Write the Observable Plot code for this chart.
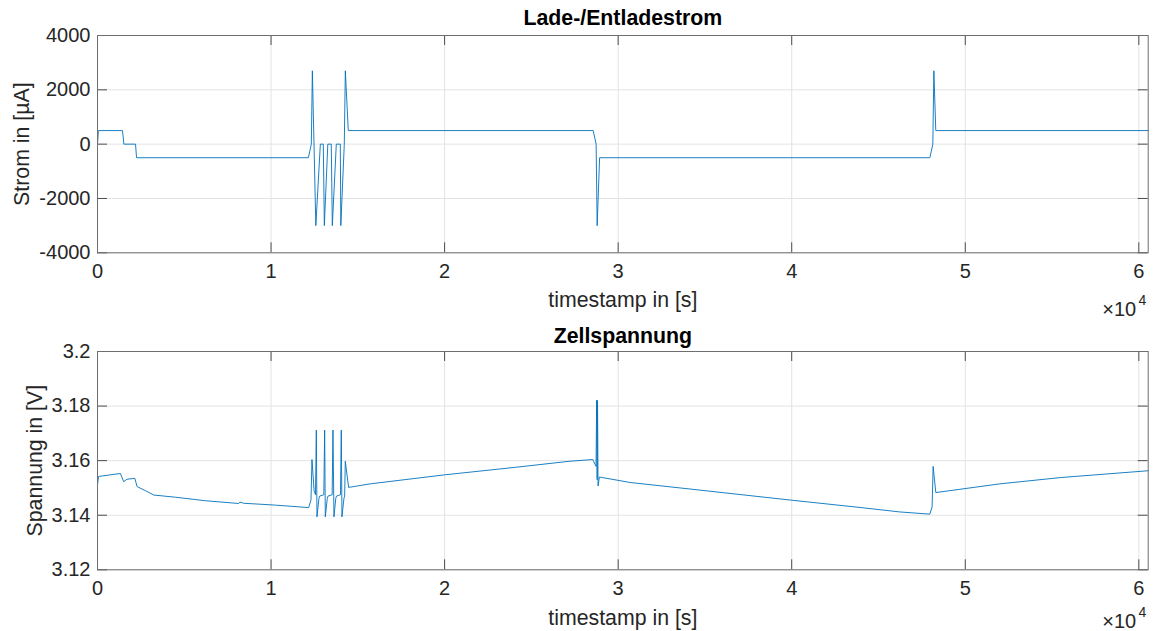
<!DOCTYPE html>
<html>
<head>
<meta charset="utf-8">
<script src="https://cdn.jsdelivr.net/npm/d3@7"></script>
<script src="https://cdn.jsdelivr.net/npm/@observablehq/plot@0.6"></script>
<style>
  html, body { margin: 0; padding: 0; background: #fff; }
  #wrap { width: 1153px; height: 631px; position: relative; overflow: hidden; }
  #wrap svg { display: block; }
</style>
</head>
<body>
<div id="wrap"></div>
<script>
// ---------- data ----------
const xTicks = [0, 10000, 20000, 30000, 40000, 50000, 60000];
const xTickLabels = ["0", "1", "2", "3", "4", "5", "6"];
const xMax = 60540;

const titleTop = "Lade-/Entladestrom";
const titleBottom = "Zellspannung";
const xLabel = "timestamp in [s]";
const yLabelTop = "Strom in [µA]";
const yLabelBottom = "Spannung in [V]";
const exponentBase = "×10";
const exponentPower = "4";

const currentTicks = [-4000, -2000, 0, 2000, 4000];
const currentTickLabels = ["-4000", "-2000", "0", "2000", "4000"];
const voltageTicks = [3.12, 3.14, 3.16, 3.18, 3.2];
const voltageTickLabels = ["3.12", "3.14", "3.16", "3.18", "3.2"];

// current (µA) vs time (s)
const currentTime = [0, 50, 1440, 1520, 2190, 2250, 12150, 12320, 12380, 12580, 12840, 13010, 13070, 13270, 13470, 13530, 13760, 13990, 14020, 14220, 14280, 14450, 28560, 28730, 28790, 28930, 47960, 48130, 48190, 48300, 60540];
const currentValue = [0, 500, 500, 0, 0, -500, -500, 0, 2700, -3000, 0, 0, -3000, 0, 0, -3000, 0, 0, -3000, 0, 2700, 500, 500, 0, -3000, -500, -500, 0, 2700, 500, 500];

// cell voltage (V) vs time (s)
const voltageTime = [0, 60, 1320, 1510, 1700, 2150, 2280, 2760, 3240, 4490, 6220, 8140, 8200, 8330, 8400, 10250, 11110, 12167,
  12301, 12358, 12480, 12560, 12608, 12646, 12760, 12800, 13040, 13088, 13126, 13240, 13280, 13520, 13567, 13625, 13730, 13770,
  14000, 14047, 14085, 14200, 14240, 14277, 14469, 15717, 20000, 24000, 27230, 28536, 28727, 28760, 28790, 28810, 28842, 28918,
  30685, 35000, 40000, 44000, 46230, 47956, 48090, 48148, 48302, 49683, 52000, 55490, 60540];
const voltageValue = [3.1511, 3.1542, 3.1553, 3.1523, 3.1532, 3.1535, 3.1505, 3.1490, 3.1474, 3.1466, 3.1453, 3.1443, 3.1448, 3.1446, 3.1444, 3.1437, 3.1433, 3.1428,
  3.1456, 3.1604, 3.1490, 3.1475, 3.1712, 3.1394, 3.1462, 3.1470, 3.1475, 3.1712, 3.1394, 3.1462, 3.1470, 3.1475, 3.1712, 3.1394, 3.1462, 3.1470,
  3.1475, 3.1712, 3.1394, 3.1462, 3.1470, 3.1598, 3.1502, 3.1515, 3.1548, 3.1575, 3.1598, 3.1604, 3.1579, 3.1822, 3.1530, 3.1820, 3.1507, 3.1540,
  3.1520, 3.1490, 3.1455, 3.1428, 3.1412, 3.1404, 3.1431, 3.1579, 3.1483, 3.1495, 3.1515, 3.1538, 3.1563];

const currentData = currentTime.map((t, i) => ({t, v: currentValue[i]}));
const voltageData = voltageTime.map((t, i) => ({t, v: voltageValue[i]}));

// ---------- drawing ----------
const W = 1153;
const FONT = "'Liberation Sans', Arial, Helvetica, sans-serif";
const AX = "#262626";
const GRID = "#e3e3e3";
const LINE = "#0072BD";
const TICK = 10;
const LABEL_SIZE = 21.3;

function panel(o) {
  const mL = 97, mR = 5.3;
  const frameW = W - mL - mR;
  const frameH = o.height - o.mt - o.mb;
  const yi = d => o.yTicks.indexOf(d);
  const xi = d => xTicks.indexOf(d);
  return Plot.plot({
    width: W,
    height: o.height,
    marginLeft: mL,
    marginRight: mR,
    marginTop: o.mt,
    marginBottom: o.mb,
    style: {fontFamily: FONT, fontSize: "20px", color: AX, background: "#fff", overflow: "visible"},
    x: {domain: [0, xMax], axis: null},
    y: {domain: o.yDomain, axis: null},
    marks: [
      Plot.gridX(xTicks, {stroke: GRID, strokeOpacity: 1}),
      Plot.gridY(o.yTicks, {stroke: GRID, strokeOpacity: 1}),
      Plot.line(o.data, {x: "t", y: "v", stroke: LINE, strokeWidth: 0.9}),
      Plot.tickX(xTicks, {x: d => d, insetTop: frameH - TICK, stroke: AX, strokeWidth: 0.8}),
      Plot.tickX(xTicks, {x: d => d, insetBottom: frameH - TICK, stroke: AX, strokeWidth: 0.8}),
      Plot.tickY(o.yTicks, {y: d => d, insetRight: frameW - TICK, stroke: AX, strokeWidth: 0.8}),
      Plot.tickY(o.yTicks, {y: d => d, insetLeft: frameW - TICK, stroke: AX, strokeWidth: 0.8}),
      Plot.frame({stroke: "#6e6e6e", strokeWidth: 1}),
      Plot.text(xTicks, {x: d => d, text: d => xTickLabels[xi(d)], frameAnchor: "bottom", dy: 19, lineAnchor: "middle", fill: AX}),
      Plot.text(o.yTicks, {y: d => d, text: d => o.yTickLabels[yi(d)], frameAnchor: "left", dx: -7, textAnchor: "end", lineAnchor: "middle", fill: AX}),
      Plot.text([xLabel], {text: d => d, frameAnchor: "bottom", dy: o.xlabelDy, lineAnchor: "middle", fontSize: LABEL_SIZE, fill: AX}),
      Plot.text([o.ylabel], {text: d => d, frameAnchor: "left", dx: o.ylabelDx, rotate: -90, textAnchor: "middle", lineAnchor: "middle", fontSize: LABEL_SIZE, fill: AX}),
      Plot.text([o.title], {text: d => d, frameAnchor: "top", dx: o.titleDx, dy: o.titleDy, textAnchor: "middle", lineAnchor: "middle", fontSize: LABEL_SIZE, fontWeight: "bold", fill: "#000"}),
      Plot.text([exponentBase], {text: d => d, frameAnchor: "bottom-right", dx: -12, dy: o.expDy, textAnchor: "end", lineAnchor: "middle", fill: AX}),
      Plot.text([exponentPower], {text: d => d, frameAnchor: "bottom-right", dx: -2, dy: o.expDy - 9, textAnchor: "end", lineAnchor: "middle", fontSize: 14, fill: AX})
    ]
  });
}

const topPanel = panel({
  data: currentData, yDomain: [-4000, 4000], yTicks: currentTicks, yTickLabels: currentTickLabels,
  height: 318, mt: 35, mb: 65.7, title: titleTop, titleDx: 0, titleDy: -17,
  ylabel: yLabelTop, ylabelDx: -75, xlabelDy: 47, expDy: 57
});
const bottomPanel = panel({
  data: voltageData, yDomain: [3.12, 3.2], yTicks: voltageTicks, yTickLabels: voltageTickLabels,
  height: 313, mt: 33, mb: 61.7, title: titleBottom, titleDx: 0, titleDy: -15,
  ylabel: yLabelBottom, ylabelDx: -62, xlabelDy: 48, expDy: 52
});
const wrap = document.getElementById("wrap");
wrap.appendChild(topPanel);
wrap.appendChild(bottomPanel);
</script>
</body>
</html>
